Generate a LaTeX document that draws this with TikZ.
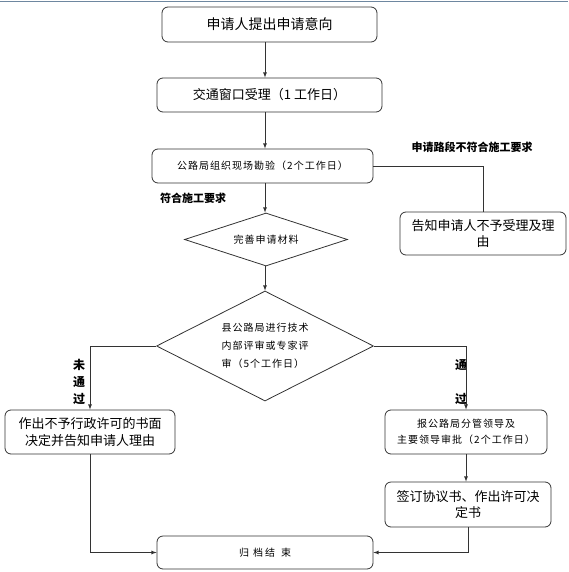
\documentclass[tikz,border=0pt]{standalone}
\usepackage{fontspec}
\setmainfont{Noto Sans CJK SC}
\newfontfamily\smallcjk[LetterSpace=10]{Noto Sans CJK SC}
\usetikzlibrary{positioning,arrows,shapes}
\definecolor{linegray}{RGB}{51,51,51}
\definecolor{framebl}{RGB}{110,135,160}
\tikzset{
	box/.style={draw=linegray, line width=0.8pt, rounded corners=6pt, align=center, inner sep=2pt, font=\fontsize{13}{16.5}\selectfont},
	smallbox/.style={box, font=\smallcjk\fontsize{10}{16.5}\selectfont},
	decision/.style={draw=linegray, line width=0.8pt, diamond, aspect=2, inner sep=0pt, align=left, font=\smallcjk\fontsize{10}{18}\selectfont},
	tag/.style={font=\bfseries\fontsize{11}{13}\selectfont, inner sep=0pt},
	vtag/.style={font=\bfseries\fontsize{12}{17}\selectfont, align=center, inner sep=0pt},
	flow/.style={draw=linegray, line width=0.8pt, -latex},
	link/.style={draw=linegray, line width=0.8pt}
}

\begin{document}
\begin{tikzpicture}[x=1pt,y=-1pt]
	\useasboundingbox (0,0) rectangle (568,572);
	\draw[framebl] (0,1) -- (568,1);
	\node[box,minimum width=215pt,minimum height=35pt,font=\fontsize{14}{16}\selectfont] (apply) at (269.5,24.5) {申请人提出申请意向};
	\node[box,minimum width=225pt,minimum height=34pt] (window) at (269.5,95) {交通窗口受理（1 工作日）};
	\node[smallbox,minimum width=221pt,minimum height=34pt] (survey) at (262.5,166) {公路局组织现场勘验（2个工作日）};
	\node[box,minimum width=166pt,minimum height=43pt] (refuse) at (483,233.5) {告知申请人不予受理及理\\由};
	\node[decision,minimum width=163pt,minimum height=53pt] (complete) at (266,239.5) {完善申请材料};
	\node[decision,minimum width=217pt,minimum height=110pt] (review) at (265,346) {县公路局进行技术\\内部评审或专家评\\审（5个工作日）};
	\node[box,minimum width=170pt,minimum height=44pt] (reject) at (90,432) {作出不予行政许可的书面\\决定并告知申请人理由};
	\node[smallbox,minimum width=162pt,minimum height=44pt] (approve) at (466,432) {报公路局分管领导及\\主要领导审批（2个工作日）};
	\node[box,minimum width=166pt,minimum height=45pt] (sign) at (468,504.5) {签订协议书、作出许可决\\定书};
	\node[smallbox,minimum width=216pt,minimum height=33pt] (archive) at (265,552.5) {归\hspace{4pt}档\hspace{2pt}结\hspace{6pt}束};
	\node[tag] (unfit) at (472,147) {申请路段不符合施工要求};
	\node[tag,anchor=west] (fit) at (160,198) {符合施工要求};
	\node[vtag] (fail) at (79,382) {未\\通\\过};
	\node[vtag] (pass) at (461,382) {通\\[17pt]过};
	\draw[flow] (apply.south -| review.north) -- (window.north -| review.north);
	\draw[flow] (window.south -| review.north) -- (survey.north -| review.north);
	\draw[flow] (survey.south -| review.north) -- (complete.north -| review.north);
	\draw[flow] (complete.south -| review.north) -- (review.north);
	\draw[link] (survey.east) -- (survey.east -| refuse.north) -- (refuse.north);
	\draw[flow] (review.west) -- (review.west -| reject.north) -- (reject.north);
	\draw[flow] (review.east) -- (review.east -| approve.north) -- (approve.north);
	\draw[flow] (approve.south) -- (approve.south |- sign.north);
	\draw[flow] (reject.south) -- (reject.south |- archive.west) -- (archive.west);
	\draw[flow] (sign.south) -- (sign.south |- archive.east) -- (archive.east);
\end{tikzpicture}
\end{document}
